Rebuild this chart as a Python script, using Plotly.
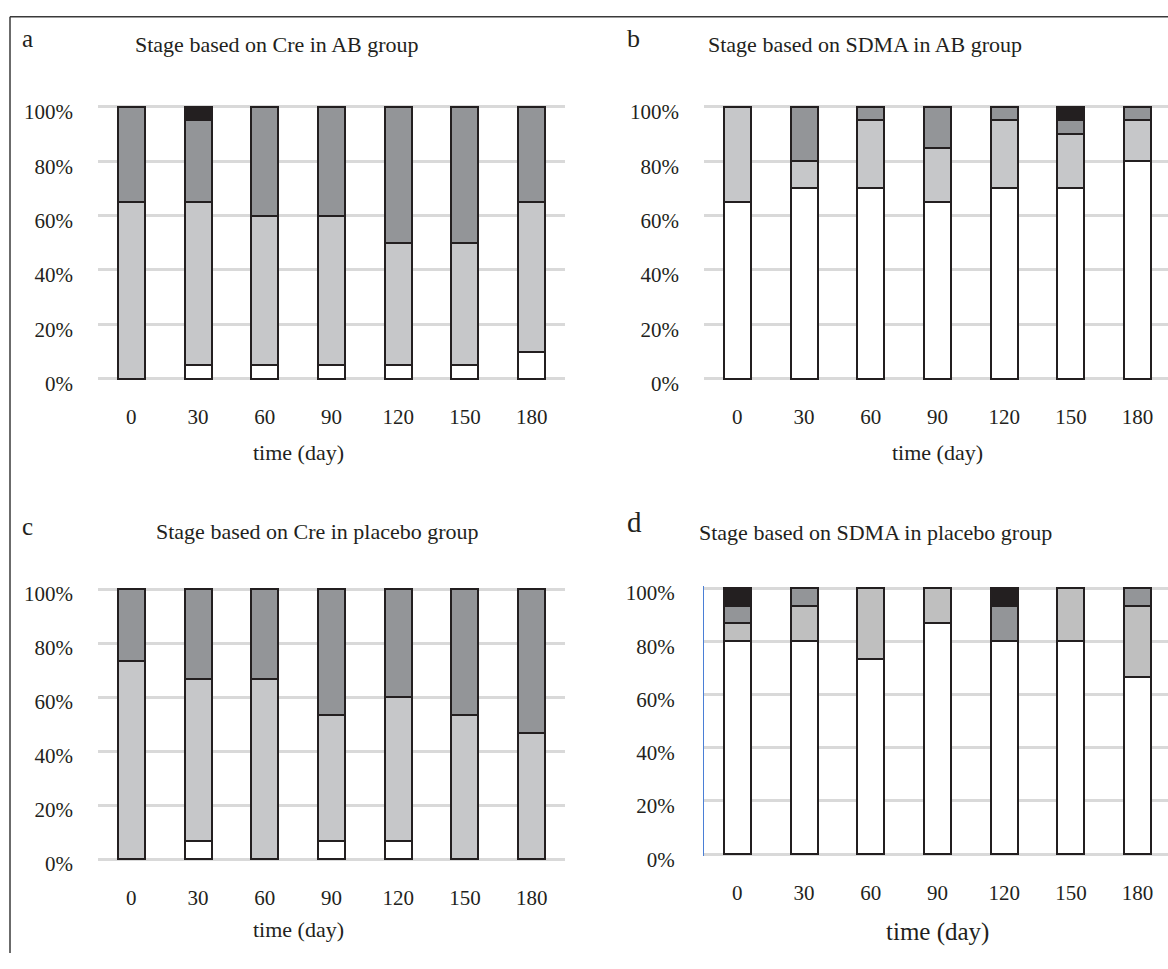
import plotly.graph_objects as go

days = ["0", "30", "60", "90", "120", "150", "180"]
y_ticks = [0, 0.2, 0.4, 0.6, 0.8, 1.0]
y_tick_labels = ["0%", "20%", "40%", "60%", "80%", "100%"]

# Panel a: Stage based on Cre in AB group (fractions of animals per stage)
a_stage1 = [0.00, 0.05, 0.05, 0.05, 0.05, 0.05, 0.10]
a_stage2 = [0.65, 0.60, 0.55, 0.55, 0.45, 0.45, 0.55]
a_stage3 = [0.35, 0.30, 0.40, 0.40, 0.50, 0.50, 0.35]
a_stage4 = [0.00, 0.05, 0.00, 0.00, 0.00, 0.00, 0.00]

# Panel b: Stage based on SDMA in AB group
b_stage1 = [0.65, 0.70, 0.70, 0.65, 0.70, 0.70, 0.80]
b_stage2 = [0.35, 0.10, 0.25, 0.20, 0.25, 0.20, 0.15]
b_stage3 = [0.00, 0.20, 0.05, 0.15, 0.05, 0.05, 0.05]
b_stage4 = [0.00, 0.00, 0.00, 0.00, 0.00, 0.05, 0.00]

# Panel c: Stage based on Cre in placebo group
c_stage1 = [0.000, 0.067, 0.000, 0.067, 0.067, 0.000, 0.000]
c_stage2 = [0.733, 0.600, 0.667, 0.467, 0.533, 0.533, 0.467]
c_stage3 = [0.267, 0.333, 0.333, 0.467, 0.400, 0.467, 0.533]
c_stage4 = [0.000, 0.000, 0.000, 0.000, 0.000, 0.000, 0.000]

# Panel d: Stage based on SDMA in placebo group
d_stage1 = [0.800, 0.800, 0.733, 0.867, 0.800, 0.800, 0.667]
d_stage2 = [0.067, 0.133, 0.267, 0.133, 0.000, 0.200, 0.267]
d_stage3 = [0.067, 0.067, 0.000, 0.000, 0.133, 0.000, 0.067]
d_stage4 = [0.067, 0.000, 0.000, 0.000, 0.067, 0.000, 0.000]

panel_titles = ["Stage based on Cre in AB group",
                "Stage based on SDMA in AB group",
                "Stage based on Cre in placebo group",
                "Stage based on SDMA in placebo group"]
panel_letters = ["a", "b", "c", "d"]
x_title = "time (day)"

W, H = 1168, 969
FONT = "Liberation Serif, Times New Roman, serif"
TXT = "#231f20"
EDGE = "#231f20"
GRID = "#d9d9d9"
E = 0.006  # small range padding so the 0% / 100% gridlines are drawn

def px(x):
    return x / W

def py(y):
    return 1 - y / H

panels = [
    dict(stages=[a_stage1, a_stage2, a_stage3, a_stage4], xd=(98, 565), yd=(104, 382), xr=(-0.5, 6.5),
         light="#c6c7c9"),
    dict(stages=[b_stage1, b_stage2, b_stage3, b_stage4], xd=(704, 1168), yd=(104, 382), xr=(-0.5, 6.456),
         light="#c6c7c9"),
    dict(stages=[c_stage1, c_stage2, c_stage3, c_stage4], xd=(98, 565), yd=(597, 873), xr=(-0.5, 6.5),
         light="#c6c7c9"),
    dict(stages=[d_stage1, d_stage2, d_stage3, d_stage4], xd=(704, 1168), yd=(596, 868), xr=(-0.5, 6.456),
         light="#bfbfbf"),
]

fig = go.Figure()
layout = {}
for i, p in enumerate(panels):
    n = "" if i == 0 else str(i + 1)
    colors = ["#ffffff", p["light"], "#939598", "#231f20"]
    for s, vals in enumerate(p["stages"]):
        fig.add_trace(go.Bar(
            x=days, y=vals, xaxis="x" + n, yaxis="y" + n,
            marker=dict(color=colors[s], line=dict(color=EDGE, width=2)),
            showlegend=False, name="stage %d" % (s + 1),
        ))
    top, bot = p["yd"]
    span = bot - top
    top_p = top - E * span
    bot_p = bot + E * span
    layout["xaxis" + n] = dict(
        domain=[px(p["xd"][0]), px(p["xd"][1])], anchor="y" + n,
        type="category", range=list(p["xr"]), showgrid=False, showline=False,
        ticks="", zeroline=False, ticklabelstandoff=22,
        tickfont=dict(family=FONT, size=21, color=TXT), fixedrange=True,
    )
    layout["yaxis" + n] = dict(
        domain=[py(bot_p), py(top_p)], anchor="x" + n,
        range=[-E, 1 + E], tickvals=y_ticks, ticktext=y_tick_labels,
        showgrid=True, gridcolor=GRID, gridwidth=3, zeroline=False,
        showline=(i == 3), linecolor="#4a7fd6", linewidth=1,
        ticks="", ticklabelstandoff=24, ticklabelshift=5,
        tickfont=dict(family=FONT, size=21, color=TXT), fixedrange=True,
    )

annotations = []
title_pos = [(133, 40), (706, 40), (154, 538), (697, 539)]
letter_pos = [(20, 34), (625, 34), (20, 533), (625, 528)]
letter_size = [25, 26, 25, 29]
xtitle_pos = [(298, 457), (937, 457), (298, 945), (937, 948)]
xtitle_size = [22, 22, 22, 25]
for i in range(4):
    annotations.append(dict(x=px(title_pos[i][0]), y=py(title_pos[i][1]), xref="paper", yref="paper",
                            text=panel_titles[i], showarrow=False, xanchor="left", yanchor="middle",
                            font=dict(family=FONT, size=22, color=TXT)))
    annotations.append(dict(x=px(letter_pos[i][0]), y=py(letter_pos[i][1]), xref="paper", yref="paper",
                            text=panel_letters[i], showarrow=False, xanchor="left", yanchor="middle",
                            font=dict(family=FONT, size=letter_size[i], color=TXT)))
    annotations.append(dict(x=px(xtitle_pos[i][0]), y=py(xtitle_pos[i][1]), xref="paper", yref="paper",
                            text=x_title, showarrow=False, xanchor="center", yanchor="middle",
                            font=dict(family=FONT, size=xtitle_size[i], color=TXT)))

shapes = [
    dict(type="line", xref="paper", yref="paper", x0=px(10), x1=1, y0=py(12), y1=py(12),
         line=dict(color="#3a3a3a", width=1.5)),
    dict(type="line", xref="paper", yref="paper", x0=px(10), x1=px(10), y0=py(12), y1=0,
         line=dict(color="#3a3a3a", width=1.5)),
]

fig.update_layout(
    width=W, height=H, margin=dict(l=0, r=0, t=0, b=0),
    paper_bgcolor="white", plot_bgcolor="white",
    barmode="stack", bargap=0.595,
    annotations=annotations, shapes=shapes, **layout,
)

fig.write_html("out.html", config={"displayModeBar": False},
               post_script="document.body.style.margin='0';document.body.style.overflow='hidden';")
